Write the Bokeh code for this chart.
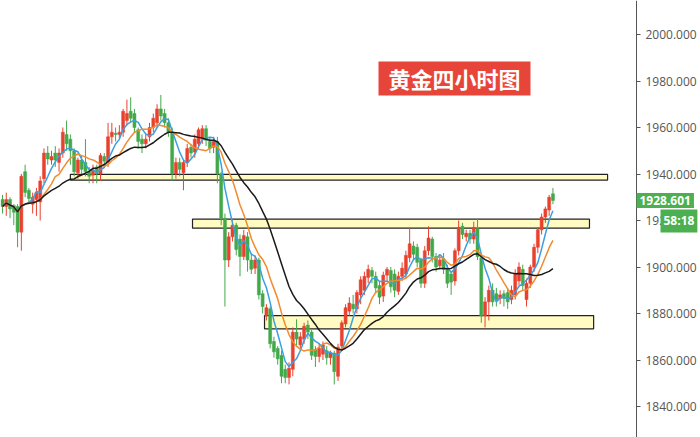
import numpy as np
import pandas as pd
from bokeh.plotting import figure
from bokeh.models import ColumnDataSource, LinearAxis, Range1d, Label, FixedTicker, NumeralTickFormatter
from bokeh.embed import file_html
from bokeh.resources import INLINE

# ---- data (4-hour gold candles) ----
opens = [1929, 1926, 1929, 1926.5, 1926, 1915, 1941, 1933, 1927, 1929,
         1928, 1938, 1949, 1946, 1949, 1945, 1949, 1957, 1955, 1950,
         1940.5, 1946, 1945, 1941, 1939.5, 1943, 1940, 1947.5, 1945, 1956,
         1957.5, 1957, 1958, 1963, 1967, 1966, 1959, 1955, 1953, 1956,
         1960, 1962, 1968, 1966, 1962, 1958, 1940, 1945, 1940.5, 1945,
         1951.5, 1949.5, 1953, 1955, 1959.5, 1954, 1951.5, 1954, 1940, 1921,
         1903, 1913, 1918, 1912, 1904.5, 1913, 1903, 1899.5, 1903, 1888.5,
         1879, 1882, 1868, 1865, 1862, 1856, 1852.5, 1856, 1872, 1866.5,
         1869, 1875, 1872, 1864.5, 1861.5, 1862.5, 1864, 1861, 1863, 1853,
         1866, 1875.5, 1881, 1884, 1882, 1888, 1890, 1895.5, 1898.5, 1896,
         1892, 1887.5, 1896.5, 1898.5, 1897, 1889.5, 1896, 1897, 1904, 1909,
         1908.5, 1903, 1893, 1907, 1912, 1904.5, 1900.5, 1903.5, 1899, 1897,
         1894, 1907, 1917.5, 1913, 1914.5, 1912, 1916.5, 1904, 1879, 1885,
         1890, 1888.5, 1886.5, 1888.5, 1889, 1886, 1888, 1894, 1899, 1886,
         1893, 1900, 1908.5, 1916, 1921.5, 1924.5, 1931.5]
highs = [1931, 1932, 1930, 1927, 1927, 1940, 1944, 1934, 1932, 1934,
         1939, 1951, 1952, 1950, 1952, 1951, 1960, 1963, 1957, 1951,
         1947, 1948, 1955, 1943, 1944, 1944, 1949, 1949, 1962, 1962,
         1960, 1961, 1968, 1972, 1973, 1968, 1960, 1957, 1957, 1962,
         1966, 1970, 1974, 1968, 1964, 1960, 1947, 1947, 1946, 1953,
         1953, 1957, 1960, 1961, 1961, 1956, 1956, 1956, 1941, 1923,
         1915, 1920, 1919, 1914, 1916, 1915, 1906, 1905, 1904, 1890,
         1884, 1883, 1870, 1866, 1864, 1858, 1859, 1874, 1877.5, 1872,
         1876, 1877, 1873, 1866, 1867, 1868, 1866, 1864, 1864, 1867,
         1877, 1884, 1887, 1888, 1890, 1896, 1898, 1901, 1900, 1898,
         1894, 1898, 1900, 1900, 1899, 1898, 1902, 1907, 1917, 1911,
         1910, 1904, 1909, 1917.5, 1913, 1906, 1905, 1906, 1901, 1898,
         1908, 1920, 1919, 1916, 1916, 1919.5, 1921, 1905, 1887, 1892,
         1893, 1891, 1890, 1890, 1891, 1892, 1899, 1902, 1901, 1895,
         1901, 1910, 1917, 1923, 1926, 1931, 1934]
lows = [1923, 1922, 1921, 1918, 1908.5, 1907, 1930, 1927, 1923, 1922,
        1920, 1936, 1944, 1944, 1943, 1941, 1947, 1950, 1944, 1939,
        1938, 1940, 1939, 1936, 1936, 1936, 1937, 1943, 1943, 1953,
        1954, 1955, 1956, 1961, 1962, 1958, 1951, 1949, 1951, 1954,
        1958, 1960, 1963, 1960, 1956, 1937, 1938, 1939, 1933, 1943,
        1947, 1947, 1951, 1953, 1952, 1949, 1949, 1936, 1918, 1883,
        1900, 1911, 1905, 1896, 1903, 1898, 1897, 1897, 1886, 1880,
        1877, 1865, 1861, 1858, 1850, 1850, 1849.5, 1853, 1866, 1864,
        1867, 1869, 1860, 1857, 1859, 1860, 1858, 1858, 1849.5, 1851,
        1864, 1874, 1879, 1880, 1880, 1884, 1888, 1893, 1893, 1889,
        1884, 1885, 1894, 1889, 1887, 1888, 1894, 1895, 1902, 1903,
        1900, 1891, 1891, 1905, 1902, 1898, 1899, 1897, 1891, 1888,
        1892, 1905, 1912, 1911, 1910, 1910, 1903, 1876, 1874, 1877,
        1883, 1883, 1884, 1883, 1882, 1884, 1886, 1892, 1890, 1883,
        1891, 1898, 1906, 1914, 1919, 1922, 1927]
closes = [1926, 1929, 1925, 1923.5, 1915, 1939, 1932, 1929.5, 1930, 1932,
          1937, 1949, 1946.5, 1947.5, 1946, 1949, 1958, 1953, 1950, 1941,
          1946, 1942, 1941, 1939, 1941.5, 1940, 1948, 1945.5, 1956, 1958,
          1957, 1958, 1967, 1966, 1964, 1960, 1954, 1953, 1955, 1960,
          1964, 1968, 1965, 1962, 1958, 1940, 1945, 1942, 1945, 1951,
          1949, 1955, 1959, 1959.5, 1954.5, 1951, 1954, 1940, 1921, 1903,
          1913, 1918, 1907.5, 1904.5, 1913.5, 1903, 1899, 1903, 1888, 1883,
          1882.5, 1867, 1863.5, 1860.5, 1853, 1852.5, 1856.5, 1872, 1869, 1870,
          1874.5, 1872, 1862, 1861.5, 1865, 1866.5, 1861, 1863, 1855, 1865.5,
          1876, 1882.5, 1884.5, 1882, 1889, 1894.5, 1896, 1899, 1896, 1891,
          1887, 1896.5, 1899, 1891.5, 1890, 1896, 1899.5, 1905, 1910, 1905.5,
          1902, 1893, 1907, 1912.5, 1904.5, 1900, 1903, 1899, 1893, 1893.5,
          1907, 1917, 1914, 1914.5, 1912, 1917, 1904.5, 1879, 1885, 1890,
          1885, 1886, 1888, 1886.5, 1885, 1890, 1897, 1900, 1892, 1893,
          1900, 1908.5, 1916, 1921.5, 1925, 1930, 1928.601]

ma_periods = [5, 10, 20]
ma_colors = ["#3c9fe0", "#f28a2e", "#1a1a1a"]

# horizontal zones: price bounds and the candle index span they cover
zone_low = [1937.4, 1916.7, 1873.4]
zone_high = [1939.8, 1920.6, 1879.1]
zone_from = [18.0, 50.4, 69.5]
zone_to = [160.5, 155.7, 156.8]

y_ticks = [1840, 1860, 1880, 1900, 1920, 1940, 1960, 1980, 2000]
title_text = "黄金四小时图"
countdown_text = "58:18"

# ---- build ----
n = len(closes)
idx = np.arange(n)
o = np.array(opens); c = np.array(closes); h = np.array(highs); l = np.array(lows)
up = c >= o
RED = "#e9412f"
GREEN = "#43a84a"
colors = np.where(up, RED, GREEN)

src = ColumnDataSource(dict(x=idx, top=np.maximum(o, c), bottom=np.minimum(o, c),
                            high=h, low=l, color=colors))

W, H = 700, 437
PX_PER_CANDLE = 3.77
X0 = -2 / PX_PER_CANDLE
X1 = X0 + W / PX_PER_CANDLE
AXIS_X = X0 + 636 / PX_PER_CANDLE       # price axis sits at the right of the candle area
Y_PX = 2.325                             # pixels per price unit
Y1 = 2000 + 34 / Y_PX
Y0 = Y1 - H / Y_PX

p = figure(frame_width=W, frame_height=H, output_backend="svg", toolbar_location=None,
           x_range=Range1d(X0, X1), y_range=Range1d(Y0, Y1),
           x_axis_location=None, y_axis_location=None,
           min_border_left=0, min_border_right=0, min_border_top=0, min_border_bottom=0)
p.outline_line_color = None
p.background_fill_color = "white"
p.border_fill_color = "white"
p.grid.visible = False

# zones (underneath)
zsrc = ColumnDataSource(dict(left=zone_from, right=zone_to, bottom=zone_low, top=zone_high))
p.quad(left="left", right="right", bottom="bottom", top="top", source=zsrc,
       fill_color="#fffbc2", line_color="#222222", line_width=1.2)

# candles
p.segment(x0="x", x1="x", y0="low", y1="high", source=src, line_color="color", line_width=1)
p.vbar(x="x", width=0.8, top="top", bottom="bottom", source=src,
       fill_color="color", line_color="color", line_width=0.5)

# moving averages
cs = pd.Series(closes)
for per, col in zip(ma_periods, ma_colors):
    ma = cs.rolling(per, min_periods=1).mean().values
    p.line(idx, ma, line_color=col, line_width=1.5)

# price axis, fixed at the right edge of the candle area
ax = LinearAxis(ticker=FixedTicker(ticks=y_ticks), formatter=NumeralTickFormatter(format="0.000"))
ax.fixed_location = AXIS_X
ax.major_tick_in = 0
ax.major_tick_out = 4
ax.minor_tick_in = 0
ax.minor_tick_out = 0
ax.axis_line_color = "#555555"
ax.major_tick_line_color = "#555555"
ax.major_label_text_color = "#555555"
ax.major_label_text_font = "Open Sans"
ax.major_label_text_font_size = "12px"
ax.major_label_standoff = 5
p.add_layout(ax, "right")

# title box
p.add_layout(Label(x=X0 + 454 / PX_PER_CANDLE, y=1981.1, text=title_text, text_align="center",
                   text_baseline="middle", text_font="Noto Sans CJK SC", text_font_style="bold",
                   text_font_size="22px", text_color="white", background_fill_color="#e8453a",
                   padding=(10, 1)))

# last price and countdown labels on the axis
p.add_layout(Label(x=AXIS_X, y=closes[-1], text="%.3f" % closes[-1], text_align="left",
                   text_baseline="middle", text_font="Open Sans", text_font_style="bold",
                   text_font_size="12px", text_color="white", background_fill_color="#4caf50",
                   padding=3))
p.add_layout(Label(x=AXIS_X, y=1919.8, x_offset=24, text=countdown_text, text_align="left",
                   text_baseline="middle", text_font="Open Sans", text_font_style="bold",
                   text_font_size="12px", text_color="white", background_fill_color="#4caf50",
                   padding=3))

open("out.html", "w").write(file_html(p, INLINE))
